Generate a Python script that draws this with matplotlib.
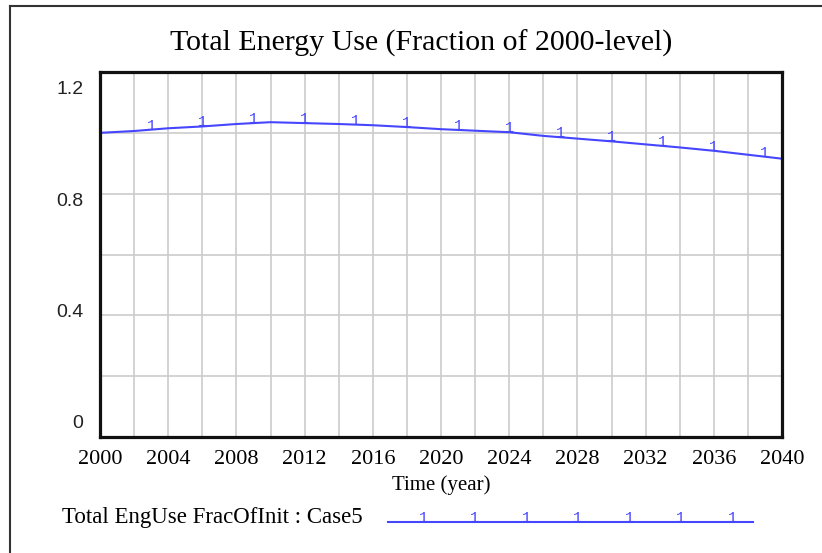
import matplotlib.pyplot as plt
import matplotlib.transforms as mtransforms
from matplotlib.lines import Line2D
import numpy as np

# values (every 2 years)
years = [2000, 2002, 2004, 2006, 2008, 2010, 2012, 2014, 2016, 2018, 2020,
         2022, 2024, 2026, 2028, 2030, 2032, 2034, 2036, 2038, 2040]
energy_frac = [1.000, 1.006, 1.015, 1.021, 1.029, 1.035, 1.032, 1.029, 1.025, 1.019, 1.012,
               1.007, 1.002, 0.990, 0.981, 0.972, 0.962, 0.952, 0.941, 0.928, 0.915]
marker_years = list(range(2000, 2040, 3))
x_ticks = list(range(2000, 2041, 4))
y_ticks = [0, 0.4, 0.8, 1.2]
y_tick_labels = ["0", "0.4", "0.8", "1.2"]
series_name = "Total EngUse FracOfInit : Case5"
title = "Total Energy Use (Fraction of 2000-level)"

BLUE = "#4646ff"
SERIF = "Liberation Serif"
SANS = "Liberation Sans"
W, H = 822, 553

fig = plt.figure(figsize=(W / 100, H / 100), dpi=100)
ax = fig.add_axes([100 / W, 116 / H, 682 / W, 365 / H])

ax.plot(years, energy_frac, color=BLUE, lw=1.5, zorder=3)
# the "1" tags Vensim puts on the line
for yr in marker_years:
    ax.text(yr, np.interp(yr, years, energy_frac), "1", color=BLUE,
            family="Liberation Mono", fontsize=11, ha="center", va="baseline",
            zorder=2, clip_on=True)

ax.set_xlim(2000, 2040)
ax.set_ylim(0, 1.2)
ax.set_xticks(x_ticks)
ax.set_xticks(range(2002, 2040, 4), minor=True)
ax.set_yticks(y_ticks)
ax.set_yticklabels(y_tick_labels)
ax.set_yticks([0.2, 0.6, 1.0], minor=True)
ax.grid(True, which="both", color="#cccccc", lw=1.2, zorder=0)
ax.set_axisbelow(True)
ax.tick_params(which="both", length=0)
ax.tick_params(axis="x", pad=9, labelsize=16)
ax.tick_params(axis="y", pad=12, labelsize=14)
for lab in ax.get_xticklabels():
    lab.set_family(SERIF)
for lab in ax.get_yticklabels():
    lab.set_family(SANS)
    lab.set_color("#222222")

# vensim spreads the y labels evenly inside the plot height
y_shift_px = [15, 4.7, -5.7, -15]
for tick, dy in zip(ax.yaxis.get_major_ticks(), y_shift_px):
    tick.label1.set_transform(tick.label1.get_transform() +
                              mtransforms.ScaledTranslation(0, dy / 100, fig.dpi_scale_trans))

for s in ax.spines.values():
    s.set_linewidth(2.3)
    s.set_color("#111111")
    s.set_zorder(4)

ax.set_xlabel("Time (year)", family=SERIF, fontsize=15, labelpad=5)

fig.text(421 / W, 1 - 43 / H, title, family=SERIF, fontsize=21.5, ha="center", va="center")

# outer frame (only left and top edges show)
fig.add_artist(Line2D([10 / W, 10 / W], [0, 1 - 6 / H], color="#333333", lw=1.5))
fig.add_artist(Line2D([10 / W, 1], [1 - 6 / H, 1 - 6 / H], color="#333333", lw=1.5))

# legend
fig.text(62 / W, 1 - 517 / H, series_name, family=SERIF, fontsize=16.5, ha="left", va="center")
leg_y = 1 - 522 / H
fig.add_artist(Line2D([388 / W, 753 / W], [leg_y, leg_y], color=BLUE, lw=1.5))
for px in np.linspace(423, 732, 7):
    fig.text(px / W, leg_y, "1", color=BLUE, family="Liberation Mono", fontsize=11,
             ha="center", va="baseline")

fig.savefig("out.png", dpi=100)
